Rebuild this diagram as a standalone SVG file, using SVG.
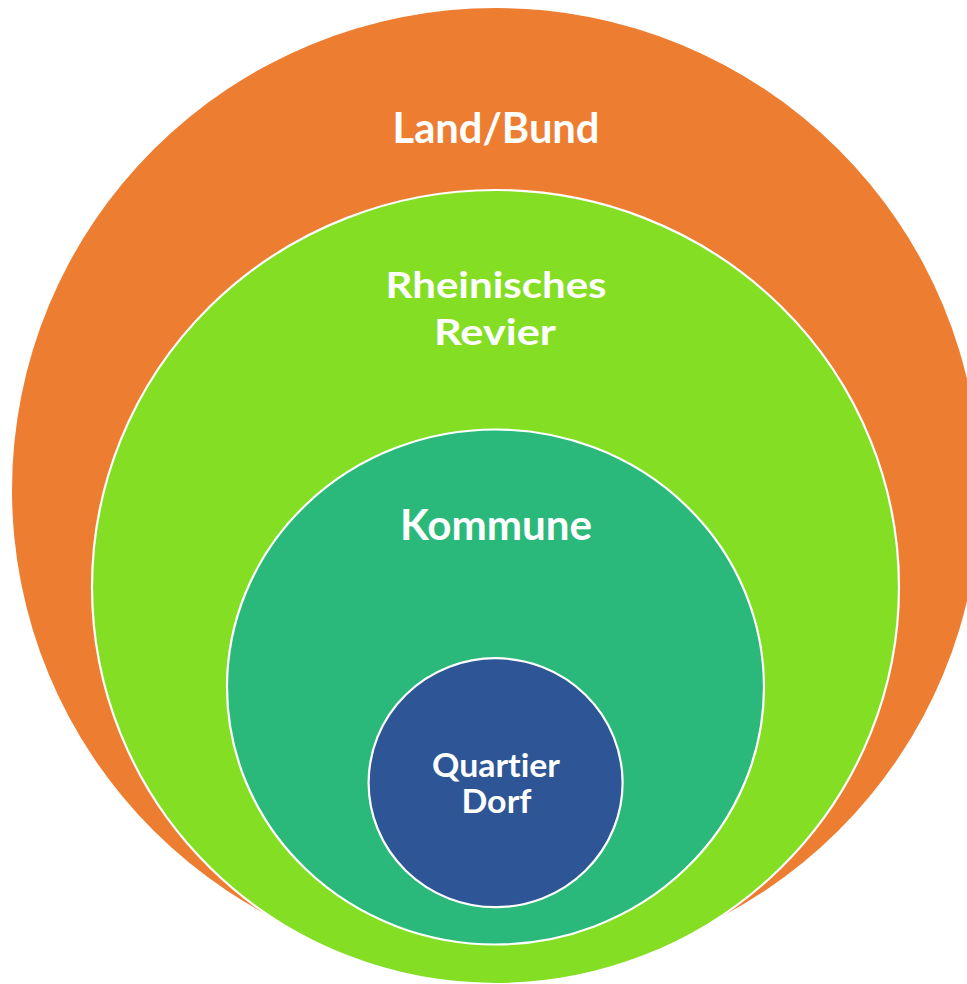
<svg xmlns="http://www.w3.org/2000/svg" width="967" height="984" viewBox="0 0 967 984">
<style>
.lbl{font-family:Lato,"Open Sans","Liberation Sans",sans-serif;font-weight:700;fill:#ffffff;text-anchor:middle;font-variant-ligatures:none}
.ring{stroke:#ffffff;stroke-width:2.2}
</style>
<rect width="967" height="984" fill="#ffffff"/>
<g id="land-bund">
<ellipse cx="496" cy="490" rx="484" ry="482" fill="#ED7D31"/>
<text class="lbl" x="496" y="142.5" font-size="42" textLength="207" lengthAdjust="spacingAndGlyphs">Land/Bund</text>
</g>
<g id="rheinisches-revier">
<ellipse class="ring" cx="495.5" cy="587" rx="403.5" ry="397" fill="#84DE24"/>
<text class="lbl" x="496" y="297.5" font-size="37" textLength="221" lengthAdjust="spacingAndGlyphs">Rheinisches</text>
<text class="lbl" x="495" y="345" font-size="37" textLength="122" lengthAdjust="spacingAndGlyphs">Revier</text>
</g>
<g id="kommune">
<ellipse class="ring" cx="495.5" cy="687" rx="268.5" ry="257.5" fill="#2BB97B"/>
<text class="lbl" x="496" y="540" font-size="42" textLength="192" lengthAdjust="spacingAndGlyphs">Kommune</text>
</g>
<g id="quartier-dorf">
<ellipse class="ring" cx="495.6" cy="782.7" rx="127" ry="124.5" fill="#2E5596"/>
<text class="lbl" x="496" y="776.7" font-size="33" textLength="128" lengthAdjust="spacingAndGlyphs">Quartier</text>
<text class="lbl" x="496.5" y="813.3" font-size="33" textLength="70" lengthAdjust="spacingAndGlyphs">Dorf</text>
</g>
<g id="connectors"/>
</svg>
